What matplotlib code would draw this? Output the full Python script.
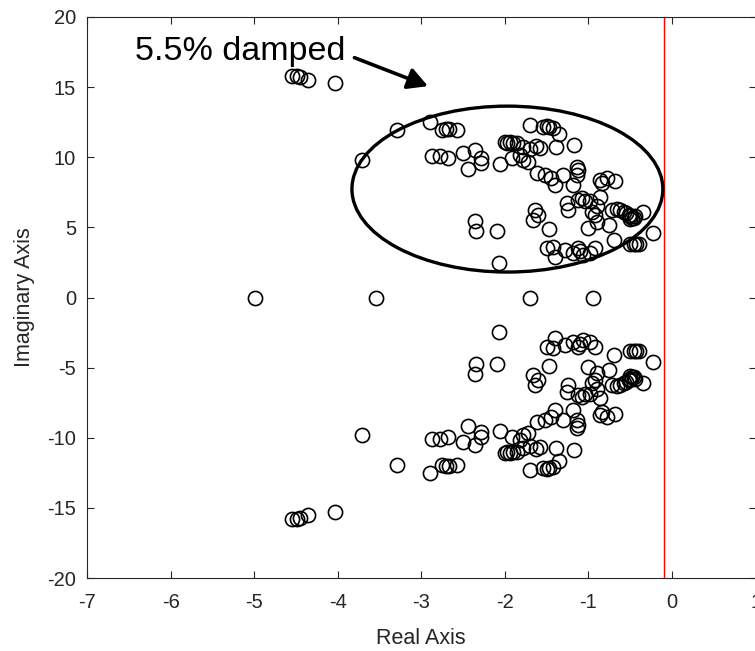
import numpy as np
import matplotlib
matplotlib.use("Agg")
import matplotlib.pyplot as plt
from matplotlib.patches import Ellipse

plt.rcParams['font.family'] = ['Liberation Sans', 'DejaVu Sans']

# Complex poles with positive imaginary part (their conjugates are drawn too)
pole_re = [
    -4.55, -4.49, -4.45, -4.35, -4.03,
    -3.71, -3.29,
    -2.89, -2.75, -2.70, -2.67, -2.57,
    -2.87, -2.78, -2.68, -2.50, -2.36, -2.28, -2.28, -2.44,
    -2.06,
    -2.00, -1.97, -1.94, -1.90, -1.85,
    -1.92, -1.82, -1.78,
    -2.36, -2.34, -2.10, -2.07,
    -1.70,
    -1.54, -1.50, -1.47, -1.43, -1.35, -1.17,
    -1.78, -1.70, -1.63, -1.58, -1.39,
    -1.72,
    -1.62, -1.52, -1.40, -1.30, -1.14, -1.13, -1.14, -1.18, -1.45,
    -0.86, -0.78, -0.68, -0.84,
    -1.26, -1.24, -1.12, -1.08, -1.04, -0.98, -0.86, -0.96, -0.92, -0.90,
    -0.72, -0.66, -0.62, -0.58, -0.55, -0.52, -0.50, -0.48, -0.46, -0.44, -0.50, -0.35,
    -1.64, -1.66, -1.60, -1.47, -1.00, -0.90, -0.76, -0.23, -0.70,
    -0.50, -0.46, -0.43, -0.40,
    -1.50, -1.42, -1.40, -1.28, -1.18, -1.12, -1.06, -1.10, -0.98, -0.92,
]
pole_im = [
    15.79, 15.79, 15.74, 15.50, 15.27,
    9.80, 11.94,
    12.53, 11.94, 12.00, 12.00, 11.94,
    10.09, 10.09, 9.97, 10.28, 10.51, 9.92, 9.56, 9.14,
    9.49,
    11.11, 11.00, 11.10, 11.00, 11.05,
    9.92, 10.16, 9.80,
    5.45, 4.74, 4.76, 2.44,
    12.30,
    12.17, 12.20, 12.15, 12.10, 11.63, 10.87,
    10.75, 10.60, 10.80, 10.65, 10.75,
    9.68,
    8.85, 8.73, 8.02, 8.73, 9.32, 9.10, 8.73, 8.02, 8.50,
    8.37, 8.50, 8.30, 8.14,
    6.71, 6.24, 6.95, 7.10, 6.90, 6.90, 7.18, 6.12, 5.88, 6.50,
    6.24, 6.30, 6.24, 6.10, 6.00, 5.90, 5.80, 5.70, 5.64, 5.80, 5.60, 6.07,
    6.24, 5.52, 5.88, 4.88, 4.93, 5.40, 5.17, 4.57, 4.10,
    3.80, 3.85, 3.80, 3.85,
    3.50, 3.62, 2.91, 3.39, 3.15, 3.50, 3.03, 3.30, 3.20, 3.50,
]
# Real poles
real_poles = [-4.99, -3.54, -1.70, -0.945]

x_ticks = [-7, -6, -5, -4, -3, -2, -1, 0, 1]
y_ticks = [-20, -15, -10, -5, 0, 5, 10, 15, 20]

sigma_limit = -0.1

fig = plt.figure(figsize=(7.55, 6.51), dpi=100)
ax = fig.add_axes([87 / 755, 73 / 651, 668.6 / 755, 561 / 651])

re = np.array(pole_re)
im = np.array(pole_im)
all_re = np.concatenate([re, re, real_poles])
all_im = np.concatenate([im, -im, np.zeros(len(real_poles))])

ax.plot(all_re, all_im, linestyle='none', marker='o', markersize=10.2,
        markerfacecolor='none', markeredgecolor='black', markeredgewidth=1.2,
        clip_on=False, zorder=3)

ax.axvline(sigma_limit, color='red', linewidth=1.0, zorder=2)

ax.add_patch(Ellipse((-1.97, 7.73), 3.72, 11.83, fill=False,
                     edgecolor='black', linewidth=2.4, zorder=4))

ax.annotate('', xy=(-2.92, 15.07), xytext=(-3.80, 17.1),
            arrowprops=dict(arrowstyle='-|>,head_length=1.2,head_width=0.65',
                            color='black', linewidth=2.6, shrinkA=0, shrinkB=0),
            zorder=5)
ax.text(-6.42, 17.55, '5.5% damped', fontsize=24.5, ha='left', va='center',
        color='black', zorder=5)

ax.set_xlim(-7, 1)
ax.set_ylim(-20, 20)
ax.set_xticks(x_ticks)
ax.set_yticks(y_ticks)
ax.set_xticklabels([str(t) for t in x_ticks])
ax.set_yticklabels([str(t) for t in y_ticks])

axis_grey = (0.15, 0.15, 0.15)
for s in ax.spines.values():
    s.set_color(axis_grey)
    s.set_linewidth(0.8)
ax.tick_params(direction='in', length=5, width=0.8, colors=axis_grey,
               labelsize=14.5, top=True, right=True)
ax.tick_params(axis='x', pad=11)
ax.tick_params(axis='y', pad=8)

ax.set_xlabel('Real Axis', fontsize=15.5, color=axis_grey, labelpad=11)
ax.set_ylabel('Imaginary Axis', fontsize=15.5, color=axis_grey, labelpad=9)

fig.savefig('out.png', dpi=100)
